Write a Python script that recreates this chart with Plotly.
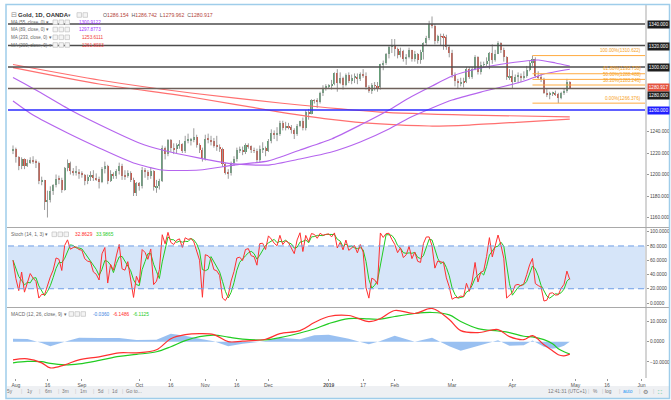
import numpy as np
import pandas as pd
import plotly.graph_objects as go

# ---------------- data ----------------
trade_dates = pd.bdate_range("2018-07-31", "2019-04-29")
calendar = pd.bdate_range("2018-07-31", "2019-06-30")

opens = [1222.5,1223.8,1216.5,1208,1214,1207.5,1210.5,1213.5,1212,1211,1193.5,1194.5,1174,1176.5,1184.5,1190,1196,1195,1186,1206,
         1210.5,1203,1202,1202.5,1200.5,1200,1193.5,1197.5,1200,1196.5,1195.5,1193,1205,1208,1194,1200.5,1198.5,1203.5,1207.5,1199,
         1198.5,1201.5,1195,1182.5,1192,1189,1204,1202,1199,1203.5,1188,1189.5,1194,1225,1219,1232.5,1225,1223.5,1227,1228,
         1222,1231.5,1232,1232.8,1234.5,1227.5,1223,1214.5,1233,1232.5,1231,1226.5,1226,1224,1209.5,1201.5,1201,1210.5,1214.5,1222.5,
         1223,1221,1227.5,1226.5,1222.5,1222,1213.5,1223.5,1224.5,1221.5,1231,1238.5,1237,1237.5,1248,1243,1245,1244,1241,1238,
         1245.5,1249.5,1243,1258,1256.5,1269,1268.5,1267.5,1276,1280.5,1282,1282.5,1284,1294,1285,1289.5,1283.5,1292.5,1287,1290,
         1291,1288.5,1293.5,1292,1281.5,1277.5,1283,1282.5,1281,1302.5,1303.5,1312,1319,1320.5,1317,1311,1314.5,1307.5,1309.5,1315.5,
         1307.5,1312,1306.5,1313.5,1322,1327,1340,1338,1324,1328.5,1328,1327.5,1318.5,1313,1293,1287,1285,1286.5,1286,1298.5,
         1291,1298.5,1309,1295,1302,1302.5,1306,1313,1306.5,1312.5,1322,1316,1309.5,1290.5,1292,1286.5,1291,1291.5,1290.5,1292,
         1297.5,1303.5,1307.5,1292,1290.5,1288.5,1276,1273.5,1275.5,1275.8,1274.5,1271.5,1275.5,1278,1286.154]
highs = [1227,1225,1217,1216,1215,1214,1216,1217,1214,1212,1198,1195,1185,1189,1191,1200,1199,1197,1207,1214,
         1212,1206,1208,1205,1203,1200.5,1200,1203,1204,1201,1198,1207,1212,1209,1204,1202,1205,1211,1210,1204,
         1204,1203,1197,1193,1193,1207,1206,1204,1207,1204,1195,1196,1227,1226,1233,1233,1229,1229,1232,1229,
         1236,1238,1234,1243,1237,1229,1225,1237,1238,1236,1234,1236,1228,1225,1211,1205,1212,1217,1225,1226,
         1226,1229,1229,1227,1225,1224,1227,1230,1226,1233,1242,1241,1244,1250,1250,1249,1248,1246,1243,1247,
         1250,1253,1260,1261,1270,1270,1271,1277,1283,1284,1284,1288,1295,1298,1295,1291,1294,1295,1293,1294,
         1294,1295,1298,1295,1283,1285,1286,1286,1303,1306,1313,1320,1326,1326,1318,1318,1316,1312,1318,1316,
         1315,1313,1316,1323,1329,1343,1347,1340,1330,1331,1331,1330,1320,1316,1295,1289,1290,1290,1300,1300,
         1300,1311,1310,1305,1305,1309,1314,1321,1316,1324,1323,1318,1310,1298,1297,1293,1295,1294,1296,1301,
         1306,1310.6,1309,1296,1294,1290,1280,1277,1277,1278,1276,1277,1280,1289,1286.742]
lows = [1219,1211,1204,1205,1205,1207,1210,1210,1206,1191,1190,1167,1160,1174,1181,1188,1191,1183,1185,1203,
        1200,1199,1199,1196,1197,1190,1191,1194,1194,1194,1187,1192,1201,1191,1193,1196,1196,1200,1195,1195,
        1197,1193,1180,1180,1185,1187,1197,1195,1196,1185,1183,1186,1193,1214,1217,1221,1219,1220,1224,1220,
        1220,1229,1227,1230,1225,1220,1212,1213,1229,1227,1225,1222,1221,1207,1200,1196,1199,1208,1212,1220,
        1218,1219,1224,1220,1220,1211,1211,1220,1217,1221,1229,1233,1231,1236,1241,1241,1242,1238,1233,1236,
        1244,1241,1241,1251,1256,1266,1262,1266,1273,1278,1280,1279,1283,1277,1284,1279,1282,1285,1284,1285,
        1284,1287,1290,1279,1276,1275,1278,1277,1279,1297,1302,1308,1313,1310,1308,1309,1305,1302,1308,1305,
        1305,1303,1303,1307,1320,1325,1336,1321,1322,1320,1316,1316,1309,1290,1282,1280,1282,1281,1285,1289,
        1289,1297,1293,1293,1300,1301,1298,1303,1305,1312,1313,1305,1288,1288,1280,1286,1285,1286,1288,1290,
        1296,1301,1290,1289,1286,1275,1272,1270,1273,1273,1266.376,1270,1274,1276,1279.962]
closes = [1223.8,1216.5,1208,1214,1207.5,1210.5,1213.5,1212,1211,1193.5,1194.5,1174,1176.5,1184.5,1190,1196,1195,1186,1206,1210.5,
          1203,1202,1202.5,1200.5,1200,1193.5,1197.5,1200,1196.5,1195.5,1193,1205,1208,1194,1200.5,1198.5,1203.5,1207.5,1199,1198.5,
          1201.5,1195,1182.5,1192,1189,1204,1202,1199,1203.5,1188,1189.5,1194,1225,1219,1232.5,1225,1223.5,1227,1228,1222,
          1231.5,1232,1232.8,1234.5,1227.5,1223,1214.5,1233,1232.5,1231,1226.5,1226,1224,1209.5,1201.5,1201,1210.5,1214.5,1222.5,1223,
          1221,1227.5,1226.5,1222.5,1222,1213.5,1223.5,1224.5,1221.5,1231,1238.5,1237,1237.5,1248,1243,1245,1244,1241,1238,1245.5,
          1249.5,1243,1258,1256.5,1269,1268.5,1267.5,1276,1280.5,1282,1282.5,1284,1294,1285,1289.5,1283.5,1292.5,1287,1290,1291,
          1288.5,1293.5,1292,1281.5,1277.5,1283,1282.5,1281,1302.5,1303.5,1312,1319,1320.5,1317,1311,1314.5,1307.5,1309.5,1315.5,1307.5,
          1312,1306.5,1313.5,1322,1327,1340,1338,1324,1328.5,1328,1327.5,1318.5,1313,1293,1287,1285,1286.5,1286,1298.5,1291,
          1298.5,1309,1295,1302,1302.5,1306,1313,1306.5,1312.5,1322,1316,1309.5,1290.5,1292,1286.5,1291,1291.5,1290.5,1292,1297.5,
          1303.5,1307.5,1292,1290.5,1288.5,1276,1273.5,1275.5,1275.8,1274.5,1271.5,1275.5,1278,1286.154,1280.917]

ma55_dates = ["2018-07-31","2018-08-09","2018-08-27","2018-09-11","2018-09-27","2018-10-11","2018-10-30","2018-11-15",
              "2018-12-03","2018-12-18","2019-01-02","2019-01-16","2019-01-30","2019-02-08","2019-02-20","2019-03-01",
              "2019-03-15","2019-03-29","2019-04-12","2019-04-22","2019-04-29"]
ma55_vals = [1268.4,1255.3,1238.6,1224.7,1210.7,1204.2,1204.2,1208.8,1212.6,1222.8,1233.0,1246.0,1260.0,1271.2,1282.3,
             1291.6,1299.1,1303.7,1306.5,1303.7,1300.9]
ma89_dates = ["2018-07-31","2018-08-10","2018-08-28","2018-09-17","2018-10-01","2018-10-11","2018-10-30","2018-11-15",
              "2018-12-03","2018-12-18","2019-01-02","2019-01-16","2019-01-30","2019-02-08","2019-02-20","2019-03-01",
              "2019-03-15","2019-04-04","2019-04-16","2019-04-29"]
ma89_vals = [1290.2,1278.6,1260.0,1241.4,1229.3,1222.8,1215.3,1209.8,1208.8,1214.4,1220.9,1230.2,1242.3,1252.6,1261.9,
             1269.3,1276.7,1286.0,1293.5,1297.9]
ma233_dates = ["2018-07-31","2018-09-11","2018-10-25","2018-12-07","2019-01-25","2019-03-11","2019-04-29"]
ma233_vals = [1302.3,1287.9,1275.8,1266.5,1258.1,1255.3,1253.6]
ma200_dates = ["2018-07-31","2018-09-11","2018-10-25","2018-12-07","2019-01-01","2019-01-25","2019-02-19","2019-03-11",
               "2019-04-04","2019-04-29"]
ma200_vals = [1299.5,1284.2,1272.1,1258.1,1251.6,1247.0,1245.1,1246.0,1248.8,1251.5]

macd_dates = ["2018-07-31","2018-08-07","2018-08-14","2018-08-17","2018-08-24","2018-08-31","2018-09-11","2018-09-20",
              "2018-09-28","2018-10-09","2018-10-16","2018-10-23","2018-10-30","2018-11-06","2018-11-13","2018-11-20",
              "2018-11-30","2018-12-07","2018-12-18","2018-12-25","2019-01-01","2019-01-10","2019-01-21","2019-01-25",
              "2019-02-01","2019-02-12","2019-02-20","2019-02-28","2019-03-06","2019-03-14","2019-03-25","2019-03-29",
              "2019-04-05","2019-04-10","2019-04-16","2019-04-19","2019-04-23","2019-04-25","2019-04-29"]
macd_line = [-9.0,-8.5,-10.5,-13.0,-11.5,-9.0,-7.5,-5.5,-5.5,-4.0,1.5,3.5,4.0,3.5,0.0,0.3,1.2,4.0,5.5,9.5,12.5,13.0,
             10.0,11.5,15.5,14.0,16.5,11.0,5.5,4.5,6.0,2.5,1.0,3.0,-1.5,-4.5,-6.5,-7.0,-6.1486]
macd_signal = [-10.5,-9.8,-9.9,-10.8,-11.5,-11.0,-9.3,-7.3,-6.3,-5.0,-2.5,0.5,2.5,3.3,2.3,1.3,0.9,2.0,4.3,6.3,9.0,11.5,
               11.3,11.2,12.5,14.0,14.5,13.3,10.0,6.5,5.3,4.5,2.7,2.4,1.0,-1.0,-3.5,-5.0,-6.1125]
macd_hist = [1.5,1.3,-0.6,-2.2,0.0,2.0,1.8,1.8,0.8,1.0,4.0,3.0,1.5,0.2,-2.3,-1.0,0.3,2.0,1.2,3.2,3.5,1.5,-1.3,0.3,
             3.0,0.0,2.0,-2.3,-4.5,-2.0,0.7,-2.0,-1.7,0.6,-2.5,-3.5,-3.0,-2.0,-0.036]

tick_dates = ["2018-08-01","2018-08-16","2018-09-03","2018-10-01","2018-10-16","2018-11-01","2018-11-16","2018-12-03",
              "2019-01-01","2019-01-17","2019-02-01","2019-03-01","2019-04-01","2019-05-01","2019-05-16","2019-06-03"]
tick_text = ["Aug","16","Sep","Oct","16","Nov","16","Dec","<b>2019</b>","17","Feb","Mar","Apr","May","16","Jun"]

level_vals = [1340, 1320, 1300, 1280, 1260]
fib_labels = ["100.00%", "61.80%", "50.00%", "38.20%", "0.00%"]
fib_vals = [1310.622, 1293.730, 1288.488, 1283.246, 1266.376]
fib_start = "2019-04-10"

# ---------------- helpers ----------------
W, H = 671, 400
FONT = "Liberation Sans, Arial, sans-serif"
UP, DOWN = "#5c9e72", "#cf4f3f"


def pos(d):
    return calendar.get_loc(pd.Timestamp(d))


def PX(x):
    return x / W


def PY(y):
    return 1 - y / H


n = len(closes)
xi = list(range(n))

fig = go.Figure()

# candle wicks
wx, wy = [], []
for i in xi:
    wx += [i, i, None]
    wy += [lows[i], highs[i], None]
fig.add_trace(go.Scatter(x=wx, y=wy, mode="lines", line=dict(color="#9b9b9b", width=1),
                         hoverinfo="skip", xaxis="x", yaxis="y"))
# candle bodies
up = [i for i in xi if closes[i] >= opens[i]]
dn = [i for i in xi if closes[i] < opens[i]]
fig.add_trace(go.Bar(x=up, y=[max(closes[i] - opens[i], 0.7) for i in up], base=[opens[i] for i in up],
                     width=0.72, marker=dict(color=UP, line=dict(width=0)), xaxis="x", yaxis="y", hoverinfo="skip"))
fig.add_trace(go.Bar(x=dn, y=[max(opens[i] - closes[i], 0.7) for i in dn], base=[closes[i] for i in dn],
                     width=0.72, marker=dict(color=DOWN, line=dict(width=0)), xaxis="x", yaxis="y", hoverinfo="skip"))

# moving averages
for dts, vals, col in [(ma233_dates, ma233_vals, "#ff7070"), (ma200_dates, ma200_vals, "#ff7070"),
                       (ma89_dates, ma89_vals, "#b565ee"), (ma55_dates, ma55_vals, "#b565ee")]:
    fig.add_trace(go.Scatter(x=[pos(d) for d in dts], y=vals, mode="lines",
                             line=dict(color=col, width=1.2, shape="spline", smoothing=0.6),
                             hoverinfo="skip", xaxis="x", yaxis="y"))

# stochastic (14,1,3) from the candles
hi_a, lo_a, cl_a = np.array(highs), np.array(lows), np.array(closes)
k_vals = []
for i in xi:
    lo = lo_a[max(0, i - 13):i + 1].min()
    hi = hi_a[max(0, i - 13):i + 1].max()
    k_vals.append(100 * (cl_a[i] - lo) / (hi - lo))
d_vals = pd.Series(k_vals).rolling(3, min_periods=1).mean().tolist()
fig.add_trace(go.Scatter(x=xi, y=d_vals, mode="lines", line=dict(color="#22cc22", width=1),
                         hoverinfo="skip", xaxis="x2", yaxis="y2"))
fig.add_trace(go.Scatter(x=xi, y=k_vals, mode="lines", line=dict(color="#ff3030", width=1),
                         hoverinfo="skip", xaxis="x2", yaxis="y2"))

# MACD
mx = [pos(d) for d in macd_dates]
fig.add_trace(go.Scatter(x=mx, y=macd_hist, mode="lines", line=dict(width=0, color="rgba(0,0,0,0)"),
                         fill="tozeroy", fillcolor="rgba(70,140,230,0.55)", hoverinfo="skip",
                         xaxis="x3", yaxis="y3"))
fig.add_trace(go.Scatter(x=mx, y=macd_signal, mode="lines", line=dict(color="#22cc22", width=1.2, shape="spline"),
                         hoverinfo="skip", xaxis="x3", yaxis="y3"))
fig.add_trace(go.Scatter(x=mx, y=macd_line, mode="lines", line=dict(color="#ff3030", width=1.2, shape="spline"),
                         hoverinfo="skip", xaxis="x3", yaxis="y3"))

# ---------------- layout ----------------
x_lo = (8 - 13) / 2.87
x_hi = (645 - 13) / 2.87
XD = [PX(8), PX(645)]
tickfont = dict(family=FONT, size=4.7, color="#444")
xcommon = dict(domain=XD, range=[x_lo, x_hi], showgrid=False, zeroline=False, showline=False, fixedrange=True)
ycommon = dict(side="right", showgrid=False, zeroline=False, showline=True, linecolor="#d4d4d4", linewidth=2,
               ticks="outside", ticklen=2, tickcolor="#999", tickfont=tickfont, fixedrange=True)

main_top, main_bot = 1340 + (24 - 5) / 1.075, 1340 - (227 - 24) / 1.075
st_top, st_bot = 100 + (231.7 - 228) / 0.713, -(307 - 303) / 0.713
md_top, md_bot = (341.7 - 308) / 2.015, -(378 - 341.7) / 2.015

fig.update_layout(
    width=W, height=H, margin=dict(l=0, r=0, t=0, b=0), paper_bgcolor="white", plot_bgcolor="white",
    showlegend=False, barmode="overlay", bargap=0, hovermode=False,
    font=dict(family=FONT),
    xaxis=dict(**xcommon, anchor="y", showticklabels=False),
    xaxis2=dict(**xcommon, anchor="y2", showticklabels=False, matches="x"),
    xaxis3=dict(**xcommon, anchor="y3", matches="x", tickvals=[pos(d) for d in tick_dates], ticktext=tick_text,
                ticks="outside", ticklen=2, tickcolor="#999", tickfont=dict(family=FONT, size=5, color="#555")),
    yaxis=dict(**ycommon, domain=[PY(227), PY(5)], range=[main_bot, main_top],
               tickvals=[1160, 1180, 1200, 1220, 1240], tickformat=".3f", anchor="x"),
    yaxis2=dict(**ycommon, domain=[PY(307), PY(228)], range=[st_bot, st_top],
                tickvals=[0, 20, 40, 60, 80, 100], tickformat=".4f", anchor="x2"),
    yaxis3=dict(**ycommon, domain=[PY(378), PY(308)], range=[md_bot, md_top],
                tickvals=[-10, 0, 10], tickformat=".4f", anchor="x3"),
)

shapes = []
# stoch band
shapes.append(dict(type="rect", xref="x2", yref="y2", x0=x_lo, x1=x_hi, y0=20, y1=80,
                   fillcolor="#d6e5f9", line=dict(width=0), layer="below"))
for lv in (20, 80):
    shapes.append(dict(type="line", xref="x2", yref="y2", x0=x_lo, x1=x_hi, y0=lv, y1=lv,
                       line=dict(color="#6f9fe6", width=1, dash="6px,4px")))
# horizontal price levels
level_cols = ["#4d4d4d", "#4d4d4d", "#4d4d4d", "#6e605a", "#2b2bff"]
for lv, col in zip(level_vals, level_cols):
    shapes.append(dict(type="line", xref="x", yref="y", x0=x_lo, x1=x_hi, y0=lv, y1=lv,
                       line=dict(color=col, width=1.6)))
# fibonacci
for lab, fv in zip(fib_labels, fib_vals):
    shapes.append(dict(type="line", xref="x", yref="y", x0=pos(fib_start), x1=x_hi, y0=fv, y1=fv,
                       line=dict(color="#ffab40", width=1)))
# pane separators
for yy in (227.5, 307.5):
    shapes.append(dict(type="line", xref="paper", yref="paper", x0=PX(7), x1=PX(669), y0=PY(yy), y1=PY(yy),
                       line=dict(color="#a9a9a9", width=1)))
# toolbar
shapes.append(dict(type="rect", xref="paper", yref="paper", x0=PX(7), x1=PX(669), y0=PY(398), y1=PY(386),
                   fillcolor="#eef0f3", line=dict(width=0), layer="below"))
# outer border
shapes.append(dict(type="rect", xref="paper", yref="paper", x0=PX(6), x1=PX(669.5), y0=PY(398.5), y1=PY(4.5),
                   line=dict(color="#9fcdea", width=1.5)))
# tiny legend icons
def icons(x0, y, k):
    for j in range(k):
        shapes.append(dict(type="rect", xref="paper", yref="paper", x0=PX(x0 + j * 6), x1=PX(x0 + j * 6 + 4.5),
                           y0=PY(y + 2.3), y1=PY(y - 2.3), line=dict(color="#c8c8c8", width=0.8),
                           fillcolor="#f4f4f4"))
icons(77, 15, 2)
for yy in (22.3, 29.5, 37.3, 45):
    icons(53, yy, 3)
icons(52, 234.3, 3)
icons(69, 314, 3)
fig.update_layout(shapes=shapes)

ann = []


def txt(x, y, s, size=4.8, color="#555", anchor="left", yanchor="middle", bold=False):
    ann.append(dict(x=PX(x), y=PY(y), xref="paper", yref="paper", text=("<b>%s</b>" % s) if bold else s,
                    showarrow=False, xanchor=anchor, yanchor=yanchor,
                    font=dict(family=FONT, size=size, color=color)))


def box(y, s, bg):
    ann.append(dict(x=PX(646.5), y=PY(y), xref="paper", yref="paper", text=s, showarrow=False,
                    xanchor="left", yanchor="middle", bgcolor=bg, borderpad=0.8,
                    font=dict(family=FONT, size=4.6, color="white")))


# legend
txt(8.5, 15, "⊟", 6.5, "#888")
txt(16, 15, "Gold, 1D, OANDA", 6, "#333", bold=True)
txt(66, 15.5, "▾", 5, "#666")
vc = "#b5453a"
txt(101, 15, "O<span style='color:%s'>1286.154</span>  H<span style='color:%s'>1286.742</span>  "
    "L<span style='color:%s'>1279.962</span>  C<span style='color:%s'>1280.917</span>" % (vc, vc, vc, vc),
    5.2, "#555")
ma_rows = [("MA (55, close, 0)", "1300.9122", "#a033ff", 22.3, 77),
           ("MA (89, close, 0)", "1297.8773", "#a033ff", 29.5, 77),
           ("MA (233, close, 0)", "1253.6111", "#f03c3c", 37.3, 80),
           ("MA (200, close, 0)", "1261.8033", "#f03c3c", 45, 80)]
for lab, val, col, yy, vx in ma_rows:
    txt(9, yy, lab + " ▾", 4.5, "#666")
    txt(vx, yy, val, 4.6, col)
txt(9, 234.3, "Stoch (14, 1, 3) ▾", 4.8, "#666")
txt(73, 234.3, "32.8629", 4.8, "#ff2a2a")
txt(94, 234.3, "33.9865", 4.8, "#1fcc1f")
txt(9, 314, "MACD (12, 26, close, 9) ▾", 4.8, "#666")
txt(91, 314, "-0.0360", 4.8, "#3d7fe0")
txt(111, 314, "-6.1486", 4.8, "#ff2a2a")
txt(131, 314, "-6.1125", 4.8, "#1fcc1f")

# fib labels
for lab, fv in zip(fib_labels, fib_vals):
    py = 24 + (1340 - fv) * 1.075
    txt(643, py - 0.4, "%s(%.3f)" % (lab, fv), 4.6, "#f7a21b", anchor="right", yanchor="bottom")

# price label boxes
box(24, "1340.000", "#1e1e1e")
box(46.5, "1320.000", "#1e1e1e")
box(67.5, "1300.000", "#1e1e1e")
box(88, "1280.917", "#e4523f")
box(95, "1280.000", "#1e1e1e")
box(110.5, "1260.000", "#1f1fff")

# toolbar
tb = [(5, "5y"), (25, "1y"), (43, "6m"), (60, "3m"), (78, "1m"), (96, "5d"), (110, "1d"), (124, "Go to...")]
for x, s in tb:
    txt(x, 391.5, s, 4.8, "#777")
for x in (19, 37, 56, 73, 91, 106, 120):
    txt(x, 391.5, "|", 4.8, "#c5c5c5")
txt(546, 391.5, "12:41:31 (UTC+1)", 4.8, "#777")
for x in (586, 600, 617, 637, 651):
    txt(x, 391.5, "|", 4.8, "#c5c5c5")
txt(591, 391.5, "%", 4.8, "#777")
txt(603, 391.5, "log", 4.8, "#777")
txt(621, 391.5, "auto", 4.8, "#2196f3")
txt(641, 391.5, "⚙", 5.5, "#777")
txt(656, 391.5, "⛶", 5.5, "#2ebf7a")

fig.update_layout(annotations=ann)
fig.write_html("out.html")
